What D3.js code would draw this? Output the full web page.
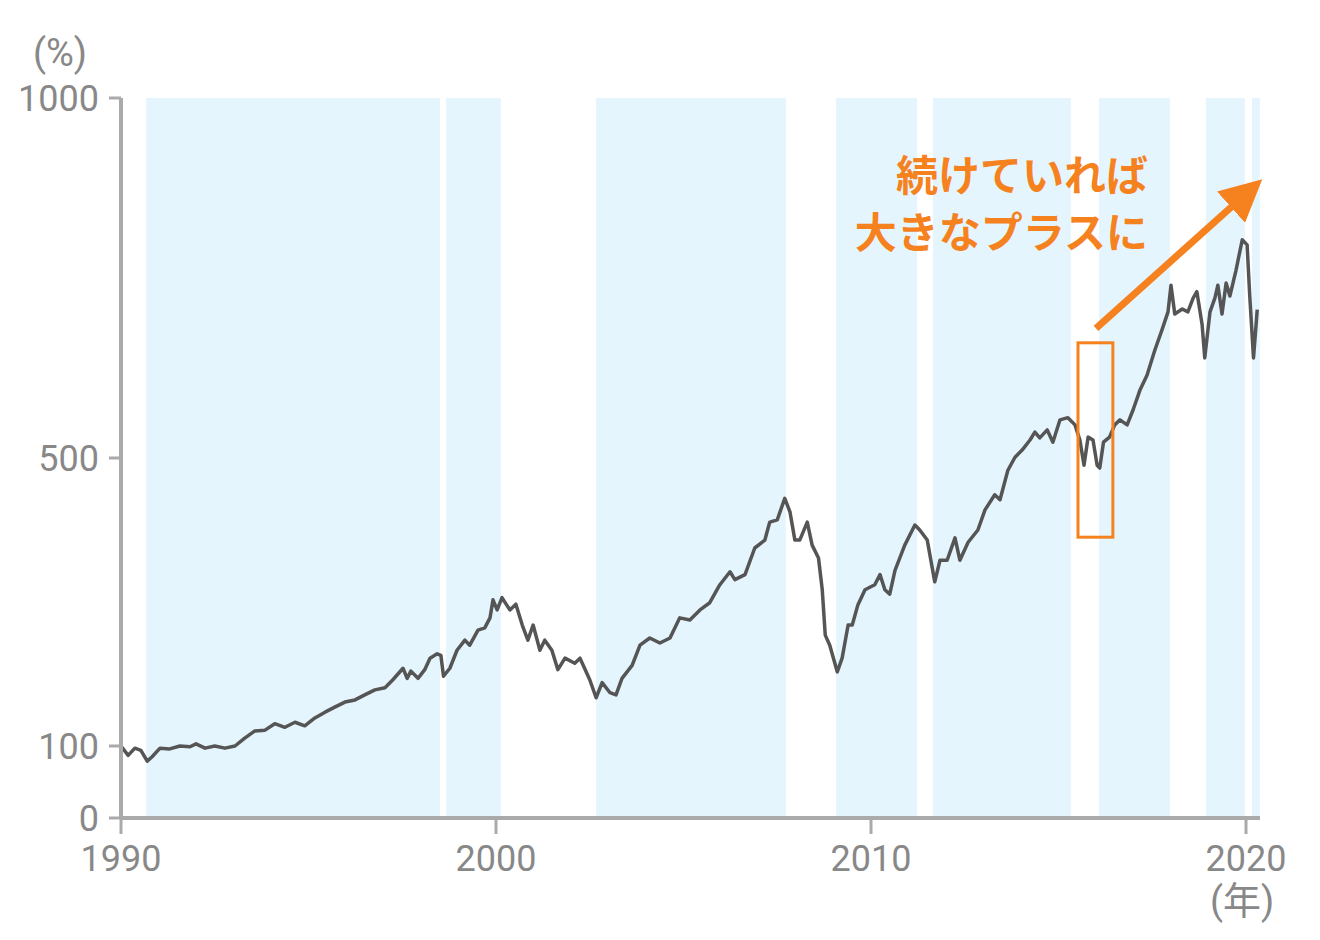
<!DOCTYPE html>
<html><head><meta charset="utf-8">
<script src="https://cdn.jsdelivr.net/npm/d3@7"></script>
<style>body{margin:0;background:#fff;font-family:Roboto,"Noto Sans CJK JP",sans-serif;}</style>
</head><body>
<svg id="chart" width="1320" height="940"></svg>
<script>
// shaded periods [start, end] in decimal years
const bands = [[1990.67,1998.51],[1998.67,2000.13],[2002.67,2007.73],[2009.07,2011.23],
  [2011.65,2015.33],[2016.08,2017.97],[2018.93,2019.97],[2020.16,2020.37]];

const years = [1990.0,1990.19,1990.37,1990.53,1990.7,1990.83,1991.04,1991.3,1991.57,1991.84,1992.0,1992.24,1992.5,1992.77,1993.04,1993.3,1993.57,1993.84,1994.1,1994.37,1994.64,1994.9,1995.17,1995.44,1995.7,1995.97,1996.24,1996.5,1996.77,1997.04,1997.25,1997.52,1997.63,1997.73,1997.92,1998.1,1998.24,1998.43,1998.53,1998.6,1998.77,1998.96,1999.17,1999.3,1999.52,1999.7,1999.84,1999.92,2000.03,2000.16,2000.37,2000.53,2000.7,2000.85,2000.99,2001.17,2001.3,2001.49,2001.65,2001.84,2002.1,2002.24,2002.5,2002.67,2002.83,2003.04,2003.2,2003.36,2003.63,2003.84,2004.1,2004.37,2004.64,2004.9,2005.17,2005.44,2005.7,2005.97,2006.24,2006.37,2006.64,2006.9,2007.17,2007.3,2007.5,2007.7,2007.84,2007.97,2008.1,2008.3,2008.43,2008.6,2008.7,2008.78,2008.9,2009.1,2009.23,2009.39,2009.5,2009.65,2009.84,2010.1,2010.24,2010.37,2010.5,2010.64,2010.9,2011.17,2011.3,2011.5,2011.7,2011.84,2012.03,2012.24,2012.37,2012.59,2012.85,2013.04,2013.3,2013.44,2013.65,2013.84,2014.03,2014.24,2014.37,2014.5,2014.7,2014.85,2015.04,2015.25,2015.44,2015.57,2015.68,2015.79,2015.92,2016.03,2016.1,2016.2,2016.36,2016.5,2016.64,2016.83,2016.99,2017.17,2017.36,2017.57,2017.76,2017.92,2018.0,2018.1,2018.3,2018.45,2018.59,2018.69,2018.83,2018.9,2019.04,2019.17,2019.25,2019.36,2019.47,2019.57,2019.73,2019.9,2020.03,2020.1,2020.2,2020.3];
const values = [100,87,97,94,79,85,97,96,100,99,103,97,100,97,100,111,121,122,131,126,133,128,139,147,154,161,164,171,178,181,192,208,194,204,194,206,222,228,226,197,208,233,247,240,261,264,278,303,289,306,289,297,268,247,268,233,247,233,206,222,215,222,192,167,188,174,171,194,212,240,250,243,250,278,275,289,299,324,342,331,338,375,386,411,414,444,425,386,386,411,379,361,317,254,240,203,222,268,268,296,317,324,338,317,311,344,379,407,400,386,328,358,358,389,358,383,400,428,449,442,483,501,511,525,536,528,539,522,553,556,546,525,490,529,525,490,486,522,529,546,553,546,567,594,615,650,678,703,740,700,707,703,722,731,685,639,703,722,740,700,743,725,760,803,796,725,639,706];

const yTicks = [0,100,500,1000];
const xTicks = [1990,2000,2010,2020];
const noteLines = ["続けていれば","大きなプラスに"];
const orange = "#f5821f";

const svg = d3.select("#chart");
const x = d3.scaleLinear().domain([1990,2020]).range([121,1246]);
const y = d3.scaleLinear().domain([0,1000]).range([818,98]);

svg.selectAll("rect.band").data(bands).enter().append("rect")
  .attr("x", d => x(d[0])).attr("width", d => x(d[1]) - x(d[0]))
  .attr("y", y(1000)).attr("height", y(0) - y(1000)).attr("fill", "#e5f5fd");

svg.append("path").datum(years.map((t,i) => [t, values[i]]))
  .attr("fill","none").attr("stroke","#555").attr("stroke-width",3.5).attr("stroke-linejoin","round")
  .attr("d", d3.line().x(d => x(d[0])).y(d => y(d[1])));

// axes
const axisColor = "#aaa", labelColor = "#888";
svg.append("line").attr("x1",x(1990)).attr("x2",x(1990)).attr("y1",y(1000)).attr("y2",y(0))
  .attr("stroke",axisColor).attr("stroke-width",4);
svg.append("line").attr("x1",x(1990)).attr("x2",1260).attr("y1",y(0)).attr("y2",y(0))
  .attr("stroke",axisColor).attr("stroke-width",4);
yTicks.forEach(v => {
  svg.append("line").attr("x1",x(1990)-12).attr("x2",x(1990)).attr("y1",y(v)).attr("y2",y(v))
    .attr("stroke",axisColor).attr("stroke-width",3);
  svg.append("text").attr("x",x(1990)-22).attr("y",y(v)).attr("dy","0.36em").attr("text-anchor","end")
    .attr("font-size",36).attr("fill",labelColor).text(v);
});
xTicks.forEach(v => {
  svg.append("line").attr("x1",x(v)).attr("x2",x(v)).attr("y1",y(0)).attr("y2",y(0)+16)
    .attr("stroke",axisColor).attr("stroke-width",3);
  svg.append("text").attr("x",x(v)).attr("y",871).attr("text-anchor","middle")
    .attr("font-size",36).attr("fill",labelColor).text(v);
});
svg.append("text").attr("x",60).attr("y",66).attr("text-anchor","middle")
  .attr("font-size",38).attr("fill",labelColor).text("(%)");
svg.append("text").attr("x",1242).attr("y",914).attr("text-anchor","middle")
  .attr("font-size",38).attr("fill",labelColor).text("(年)");

// highlight box and arrow
svg.append("rect").attr("x",x(2015.52)).attr("width",x(2016.45)-x(2015.52))
  .attr("y",y(660)).attr("height",y(390)-y(660))
  .attr("fill","none").attr("stroke",orange).attr("stroke-width",3);
svg.append("defs").append("marker").attr("id","ah").attr("viewBox","0 0 10 10")
  .attr("refX",3).attr("refY",5).attr("markerWidth",6).attr("markerHeight",6).attr("orient","auto")
  .append("path").attr("d","M0,0L10,5L0,10z").attr("fill",orange);
svg.append("line").attr("x1",x(2016.0)).attr("y1",y(680)).attr("x2",x(2019.85)).attr("y2",y(860))
  .attr("stroke",orange).attr("stroke-width",7).attr("marker-end","url(#ah)");

noteLines.forEach((s,i) => {
  svg.append("text").attr("x",1148).attr("y",191 + i*57).attr("text-anchor","end")
    .attr("font-size",42).attr("font-weight","bold").attr("fill",orange)
    .attr("font-family","'Noto Sans CJK JP',sans-serif").text(s);
});
</script>
</body></html>
